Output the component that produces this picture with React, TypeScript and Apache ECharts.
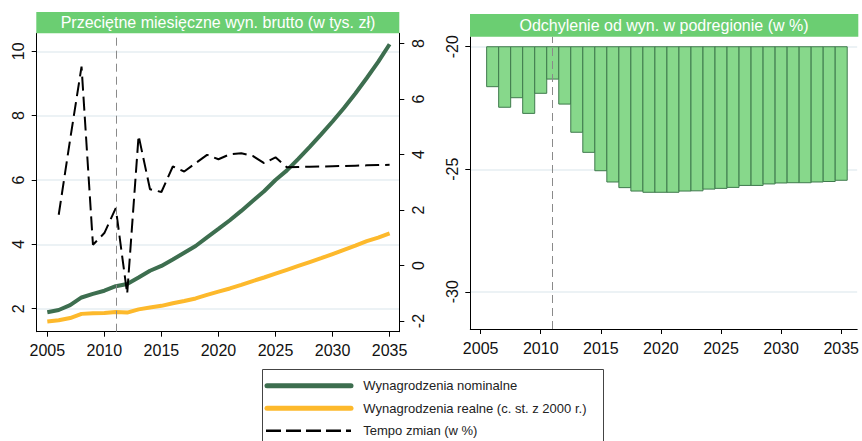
import React, { useEffect, useRef } from "react";
import * as echarts from "echarts";

const years = [2005, 2006, 2007, 2008, 2009, 2010, 2011, 2012, 2013, 2014, 2015, 2016, 2017, 2018, 2019, 2020, 2021, 2022, 2023, 2024, 2025, 2026, 2027, 2028, 2029, 2030, 2031, 2032, 2033, 2034, 2035];
const nominal = [1.89, 1.96, 2.11, 2.35, 2.46, 2.56, 2.70, 2.77, 2.97, 3.18, 3.33, 3.53, 3.74, 3.95, 4.22, 4.48, 4.75, 5.04, 5.35, 5.65, 6.00, 6.30, 6.66, 7.03, 7.42, 7.82, 8.24, 8.69, 9.17, 9.67, 10.22];
const real = [1.60, 1.64, 1.71, 1.84, 1.86, 1.87, 1.90, 1.88, 1.98, 2.04, 2.09, 2.17, 2.24, 2.32, 2.43, 2.53, 2.63, 2.74, 2.86, 2.97, 3.09, 3.21, 3.33, 3.45, 3.57, 3.70, 3.83, 3.96, 4.10, 4.21, 4.34];
const tempoYears = [2006, 2007, 2008, 2009, 2010, 2011, 2012, 2013, 2014, 2015, 2016, 2017, 2018, 2019, 2020, 2021, 2022, 2023, 2024, 2025, 2026, 2027, 2028, 2029, 2030, 2031, 2032, 2033, 2034, 2035];
const tempo = [1.83, 4.54, 7.17, 0.75, 1.17, 2.07, -1.02, 4.68, 2.75, 2.65, 3.57, 3.39, 3.69, 3.99, 3.83, 4.01, 4.05, 3.95, 3.69, 3.90, 3.54, 3.55, 3.56, 3.57, 3.58, 3.59, 3.60, 3.61, 3.62, 3.63];
const devYears = tempoYears;
const deviation = [-21.63, -22.47, -22.08, -22.72, -21.90, -21.32, -22.34, -23.49, -24.31, -25.06, -25.52, -25.75, -25.89, -25.94, -25.94, -25.94, -25.89, -25.88, -25.81, -25.78, -25.74, -25.66, -25.66, -25.60, -25.56, -25.55, -25.55, -25.52, -25.50, -25.45];
const devBase = -20;
const xTicks = [2005, 2010, 2015, 2020, 2025, 2030, 2035];
const leftTicks = [2, 4, 6, 8, 10];
const rightTicks = [-2, 0, 2, 4, 6, 8];
const devTicks = [-30, -25, -20];
const projectionStart = 2011;
const titleLeft = "Przeciętne miesięczne wyn. brutto (w tys. zł)";
const titleRight = "Odchylenie od wyn. w podregionie (w %)";
const legendNames = ["Wynagrodzenia nominalne", "Wynagrodzenia realne (c. st. z 2000 r.)", "Tempo zmian (w %)"];

const FONT = "'Liberation Sans', Arial, Helvetica, sans-serif";
const GREEN = "#3d6e4f";
const YELLOW = "#fdb92c";
const TITLE_BG = "#6bce72";
const BAR_FILL = "#87d88b";
const BAR_STROKE = "#3f7a4d";
const GRID_C = "#e6eef2";

const axisCommon = {
  axisLine: { show: true, onZero: false, lineStyle: { color: "#000", width: 1 } },
  axisTick: { show: true, length: 5, lineStyle: { color: "#000", width: 1 } },
};
const plain = (v: number) => String(v);

export default function App() {
  const ref = useRef<HTMLDivElement>(null);
  useEffect(() => {
    if (!ref.current) return;
    const chart = echarts.init(ref.current, null, { renderer: "svg" });
    const labelStyle = { fontFamily: FONT, fontSize: 16, color: "#111", formatter: plain };
    const option: any = {
      animation: false,
      backgroundColor: "#fff",
      grid: [
        { left: 36.7, top: 33.3, width: 362.6, height: 298.4, containLabel: false },
        { left: 470.3, top: 36.7, width: 388, height: 292.3, containLabel: false },
      ],
      xAxis: [
        {
          type: "value", gridIndex: 0, min: 2004.07, max: 2035.85,
          ...axisCommon,
          axisTick: { ...axisCommon.axisTick, customValues: xTicks },
          axisLabel: { ...labelStyle, margin: 11, customValues: xTicks },
          splitLine: { show: false },
        },
        {
          type: "value", gridIndex: 1, min: 2004.14, max: 2036.33,
          ...axisCommon,
          axisTick: { ...axisCommon.axisTick, customValues: xTicks },
          axisLabel: { ...labelStyle, margin: 11, customValues: xTicks },
          splitLine: { show: false },
        },
      ],
      yAxis: [
        {
          type: "value", gridIndex: 0, position: "left", min: 1.286, max: 10.56,
          ...axisCommon,
          axisTick: { ...axisCommon.axisTick, customValues: leftTicks },
          axisLabel: { ...labelStyle, rotate: 90, margin: 10, customValues: leftTicks },
          splitLine: { show: true, lineStyle: { color: GRID_C, width: 1.5 } },
        },
        {
          type: "value", gridIndex: 0, position: "right", min: -2.385, max: 8.37,
          ...axisCommon,
          axisTick: { ...axisCommon.axisTick, customValues: rightTicks },
          axisLabel: { ...labelStyle, rotate: 90, margin: 11, customValues: rightTicks },
          splitLine: { show: false },
        },
        {
          type: "value", gridIndex: 1, position: "left", min: -31.52, max: -19.59,
          ...axisCommon,
          axisTick: { ...axisCommon.axisTick, customValues: devTicks },
          axisLabel: { ...labelStyle, rotate: 90, margin: 10, customValues: devTicks },
          splitLine: { show: true, lineStyle: { color: GRID_C, width: 1.5 } },
        },
      ],
      series: [
        {
          name: "projLeft", type: "line", xAxisIndex: 0, yAxisIndex: 0, z: 1,
          data: [[projectionStart, 5]], symbol: "none", lineStyle: { width: 0 },
          markLine: {
            silent: true, symbol: "none", label: { show: false },
            lineStyle: { color: "#8a8a8a", type: [8, 5], width: 1 },
            data: [{ xAxis: projectionStart }],
          },
        },
        {
          name: legendNames[0], type: "line", xAxisIndex: 0, yAxisIndex: 0, z: 3,
          data: years.map((y, i) => [y, nominal[i]]),
          symbol: "none", lineStyle: { color: GREEN, width: 4 }, itemStyle: { color: GREEN },
        },
        {
          name: legendNames[1], type: "line", xAxisIndex: 0, yAxisIndex: 0, z: 3,
          data: years.map((y, i) => [y, real[i]]),
          symbol: "none", lineStyle: { color: YELLOW, width: 4 }, itemStyle: { color: YELLOW },
        },
        {
          name: legendNames[2], type: "line", xAxisIndex: 0, yAxisIndex: 1, z: 3,
          data: tempoYears.map((y, i) => [y, tempo[i]]),
          symbol: "none", lineStyle: { color: "#000", width: 2, type: [14, 6] }, itemStyle: { color: "#000" },
        },
        {
          name: "Odchylenie", type: "custom", xAxisIndex: 1, yAxisIndex: 2, z: 2,
          data: devYears.map((y, i) => [y, deviation[i]]),
          encode: { x: 0, y: 1 },
          renderItem: (params: any, api: any) => {
            const x = api.value(0);
            const v = api.value(1);
            const p0 = api.coord([x - 0.5, devBase]);
            const p1 = api.coord([x + 0.5, v]);
            return {
              type: "rect",
              shape: { x: p0[0], y: p0[1], width: p1[0] - p0[0], height: p1[1] - p0[1] },
              style: { fill: BAR_FILL, stroke: BAR_STROKE, lineWidth: 1 },
            };
          },
        },
        {
          name: "projRight", type: "line", xAxisIndex: 1, yAxisIndex: 2, z: 5,
          data: [[projectionStart, -20]], symbol: "none", lineStyle: { width: 0 },
          markLine: {
            silent: true, symbol: "none", label: { show: false },
            lineStyle: { color: "#8a8a8a", type: [8, 5], width: 1 },
            data: [{ xAxis: projectionStart }],
          },
        },
      ],
      graphic: [
        { type: "rect", shape: { x: 36.3, y: 12, width: 363, height: 21.3 }, style: { fill: TITLE_BG }, z: 10 },
        { type: "text", x: 218, y: 22.8, z: 11, style: { text: titleLeft, fill: "#fff", font: `16px ${FONT}`, align: "center", verticalAlign: "middle" } },
        { type: "rect", shape: { x: 470, y: 14, width: 388.3, height: 22.7 }, style: { fill: TITLE_BG }, z: 10 },
        { type: "text", x: 664, y: 25.5, z: 11, style: { text: titleRight, fill: "#fff", font: `16px ${FONT}`, align: "center", verticalAlign: "middle" } },
        { type: "rect", shape: { x: 262.5, y: 369.5, width: 341, height: 90 }, style: { fill: "#fff", stroke: "#444", lineWidth: 1 }, z: 10 },
        { type: "line", shape: { x1: 267, y1: 385.7, x2: 351, y2: 385.7 }, style: { stroke: GREEN, lineWidth: 5, lineCap: "round" }, z: 11 },
        { type: "line", shape: { x1: 267, y1: 408.3, x2: 351, y2: 408.3 }, style: { stroke: YELLOW, lineWidth: 5, lineCap: "round" }, z: 11 },
        { type: "line", shape: { x1: 266, y1: 430.7, x2: 351, y2: 430.7 }, style: { stroke: "#000", lineWidth: 2.5, lineDash: [15, 5] }, z: 11 },
        { type: "text", x: 363.3, y: 385.7, z: 11, style: { text: legendNames[0], fill: "#222", font: `13px ${FONT}`, verticalAlign: "middle" } },
        { type: "text", x: 363.3, y: 408.3, z: 11, style: { text: legendNames[1], fill: "#222", font: `13px ${FONT}`, verticalAlign: "middle" } },
        { type: "text", x: 363.3, y: 430.7, z: 11, style: { text: legendNames[2], fill: "#222", font: `13px ${FONT}`, verticalAlign: "middle" } },
      ],
    };
    chart.setOption(option);
    return () => chart.dispose();
  }, []);
  return <div ref={ref} style={{ position: "fixed", left: 0, top: 0, width: 862, height: 441 }} />;
}
